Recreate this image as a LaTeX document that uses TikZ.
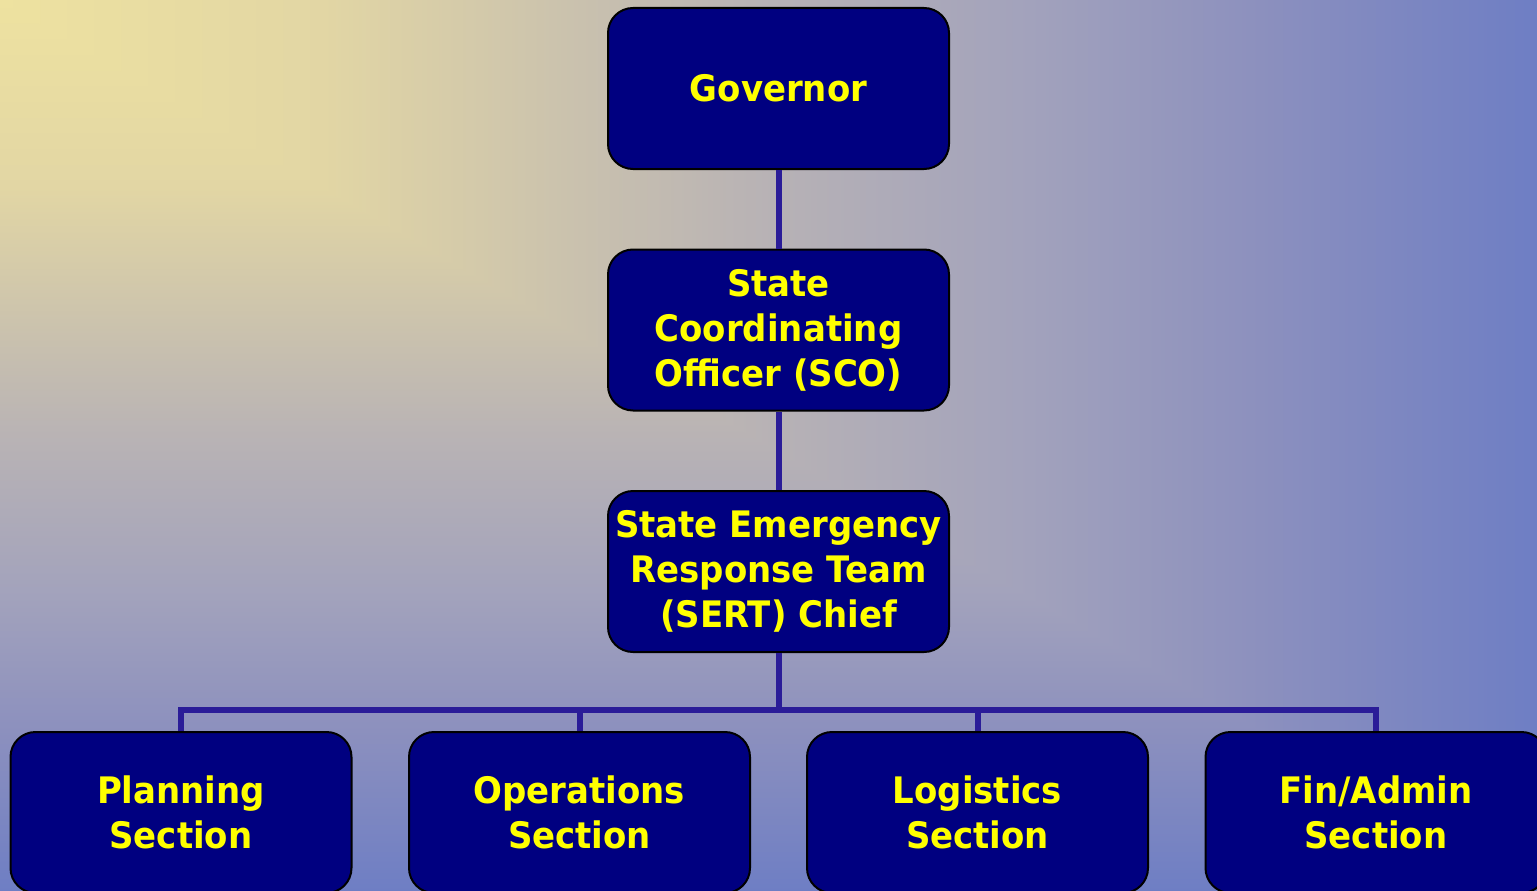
\documentclass[tikz,border=0pt]{standalone}
\usepackage{fontspec}
\newfontfamily\boxfont[FakeStretch=0.93]{DejaVu Sans Bold}
\definecolor{g0}{RGB}{238,226,160}
\definecolor{g1}{RGB}{226,214,164}
\definecolor{g2}{RGB}{186,180,180}
\definecolor{g3}{RGB}{162,162,188}
\definecolor{g4}{RGB}{140,144,190}
\definecolor{g5}{RGB}{110,126,196}
\definecolor{boxfill}{RGB}{0,0,128}
\definecolor{boxtext}{RGB}{255,255,0}
\definecolor{connline}{RGB}{42,28,152}
\tikzset{
  orgbox/.style={draw=black, line width=2pt, fill=boxfill, rounded corners=25pt,
    minimum width=341pt, minimum height=161pt, inner sep=0pt, align=center,
    text=boxtext, font=\boxfont\fontsize{36.5}{45}\selectfont},
  conn/.style={draw=connline, line width=6pt}
}
\begin{document}
\begin{tikzpicture}[x=1pt,y=-1pt]
\useasboundingbox (0,0) rectangle (1537,891);
% background: rectangular gradient from the top-left corner
\fill[g3] (0,0) rectangle (1537,891);
\foreach \ta/\tb/\ca/\cb in {0/0.21/g0/g1, 0.21/0.48/g1/g2, 0.48/0.67/g2/g3, 0.67/0.82/g3/g4, 0.82/1.0/g4/g5}{
  % lower-left triangle: colour varies with y
  \shade[top color=\ca, bottom color=\cb]
    (-1,{\ta*891-0.5}) -- ({\ta*1537+1},{\ta*891-0.5}) -- ({\tb*1537+1},{\tb*891+0.5}) -- (-1,{\tb*891+0.5}) -- cycle;
  % upper-right triangle: colour varies with x
  \shade[left color=\ca, right color=\cb]
    ({\ta*1537-0.5},-1) -- ({\tb*1537+0.5},-1) -- ({\tb*1537+0.5},{\tb*891+1}) -- ({\ta*1537-0.5},{\ta*891+1}) -- cycle;
}
% boxes
\node[orgbox] (gov)  at (778.5,88.5) {Governor};
\node[orgbox] (sco)  at (778.5,330) {State\\Coordinating\\Officer (SCO)};
\node[orgbox] (sert) at (778.5,571.5) {State Emergency\\Response Team\\(SERT) Chief};
\node[orgbox] (plan) at (181,812.5) {Planning\\Section};
\node[orgbox] (ops)  at (579.5,812.5) {Operations\\Section};
\node[orgbox] (log)  at (977.5,812.5) {Logistics\\Section};
\node[orgbox] (fin)  at (1376,812.5) {Fin/Admin\\Section};
% connectors
\coordinate (bus) at (778.5,710);
\draw[conn] (gov.south) -- (sco.north);
\draw[conn] (sco.south) -- (sert.north);
\draw[conn] (sert.south) -- (bus);
\draw[conn] (plan.north) |- (bus) -| (fin.north);
\draw[conn] (ops.north) -- (ops.north |- bus);
\draw[conn] (log.north) -- (log.north |- bus);
\end{tikzpicture}
\end{document}
